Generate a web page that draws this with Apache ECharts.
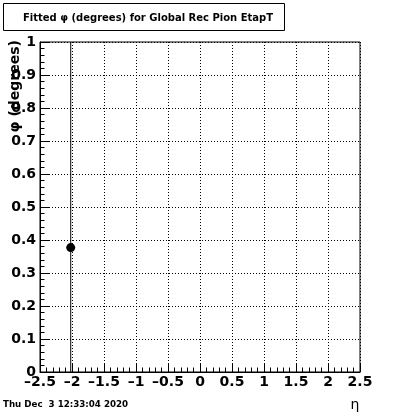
<!DOCTYPE html>
<html>
<head>
<meta charset="utf-8">
<script src="https://cdn.jsdelivr.net/npm/echarts@6/dist/echarts.min.js"></script>
<style>
html,body{margin:0;padding:0;background:#fff;}
#chart{width:400px;height:414px;}
</style>
</head>
<body>
<div id="chart"></div>
<script>
// Data
const etaValues = [-2.02];
const phiValues = [0.377];
const phiErrors = [1.0];
const titleText = 'Fitted \u03c6 (degrees) for Global Rec Pion EtapT';
const yAxisTitle = '\u03c6 (degrees)';
const xAxisTitle = '\u03b7';
const dateText = 'Thu Dec  3 12:33:04 2020';

const points = etaValues.map((x, i) => [x, phiValues[i], phiErrors[i]]);
const FONT = 'DejaVu Sans';

const chart = echarts.init(document.getElementById('chart'), null, {renderer: 'canvas'});
chart.setOption({
  animation: false,
  backgroundColor: '#fff',
  grid: {left: 40, right: 40, top: 42, bottom: 42, show: true, borderColor: '#000', borderWidth: 1, backgroundColor: 'transparent'},
  xAxis: {
    type: 'value', min: -2.5, max: 2.5, interval: 0.5,
    axisLine: {show: true, onZero: false, lineStyle: {color: '#000', width: 1}},
    axisTick: {show: true, inside: true, length: 9, lineStyle: {color: '#000'}},
    minorTick: {show: true, splitNumber: 5, length: 4.5, lineStyle: {color: '#000'}},
    splitLine: {show: true, lineStyle: {color: '#000', type: [1, 2], width: 1}},
    axisLabel: {color: '#000', fontFamily: FONT, fontWeight: 'bold', fontSize: 14, margin: 3,
      formatter: v => String(v).replace('-', '\u2013')}
  },
  yAxis: {
    type: 'value', min: 0, max: 1, interval: 0.1,
    axisLine: {show: true, onZero: false, lineStyle: {color: '#000', width: 1}},
    axisTick: {show: true, inside: true, length: 9, lineStyle: {color: '#000'}},
    minorTick: {show: true, splitNumber: 5, length: 4.5, lineStyle: {color: '#000'}},
    splitLine: {show: true, lineStyle: {color: '#000', type: [1, 2], width: 1}},
    axisLabel: {color: '#000', fontFamily: FONT, fontWeight: 'bold', fontSize: 14, margin: 4,
      formatter: v => String(Math.round(v * 10) / 10)}
  },
  series: [
    {
      type: 'custom',
      clip: true,
      data: points,
      renderItem: function (params, api) {
        const x = api.value(0), y = api.value(1), e = api.value(2);
        const p1 = api.coord([x, y - e]);
        const p2 = api.coord([x, y + e]);
        return {type: 'line', shape: {x1: p1[0], y1: p1[1], x2: p2[0], y2: p2[1]},
          style: {stroke: '#000', lineWidth: 1}};
      },
      z: 3
    },
    {
      type: 'scatter',
      data: points.map(p => [p[0], p[1]]),
      symbol: 'circle', symbolSize: 9,
      itemStyle: {color: '#000', opacity: 1},
      z: 4
    }
  ],
  graphic: [
    {type: 'rect', shape: {x: 3.5, y: 3.5, width: 281, height: 27},
      style: {fill: '#fff', stroke: '#000', lineWidth: 1}, z: 10},
    {type: 'text', x: 148, y: 18, z: 11,
      style: {text: titleText, fill: '#000', font: 'bold 10px "DejaVu Sans"', align: 'center', verticalAlign: 'middle'}},
    {type: 'text', x: 15, y: 40, rotation: Math.PI / 2, z: 11,
      style: {text: yAxisTitle, fill: '#000', font: 'bold 14px "DejaVu Sans"', align: 'right', verticalAlign: 'middle'}},
    {type: 'text', x: 355, y: 405, z: 11,
      style: {text: xAxisTitle, fill: '#000', font: '14px "DejaVu Sans"', align: 'center', verticalAlign: 'middle'}},
    {type: 'text', x: 3, y: 405, z: 11,
      style: {text: dateText, fill: '#000', font: 'bold 8.7px "DejaVu Sans"', align: 'left', verticalAlign: 'middle'}}
  ]
});
</script>
</body>
</html>
